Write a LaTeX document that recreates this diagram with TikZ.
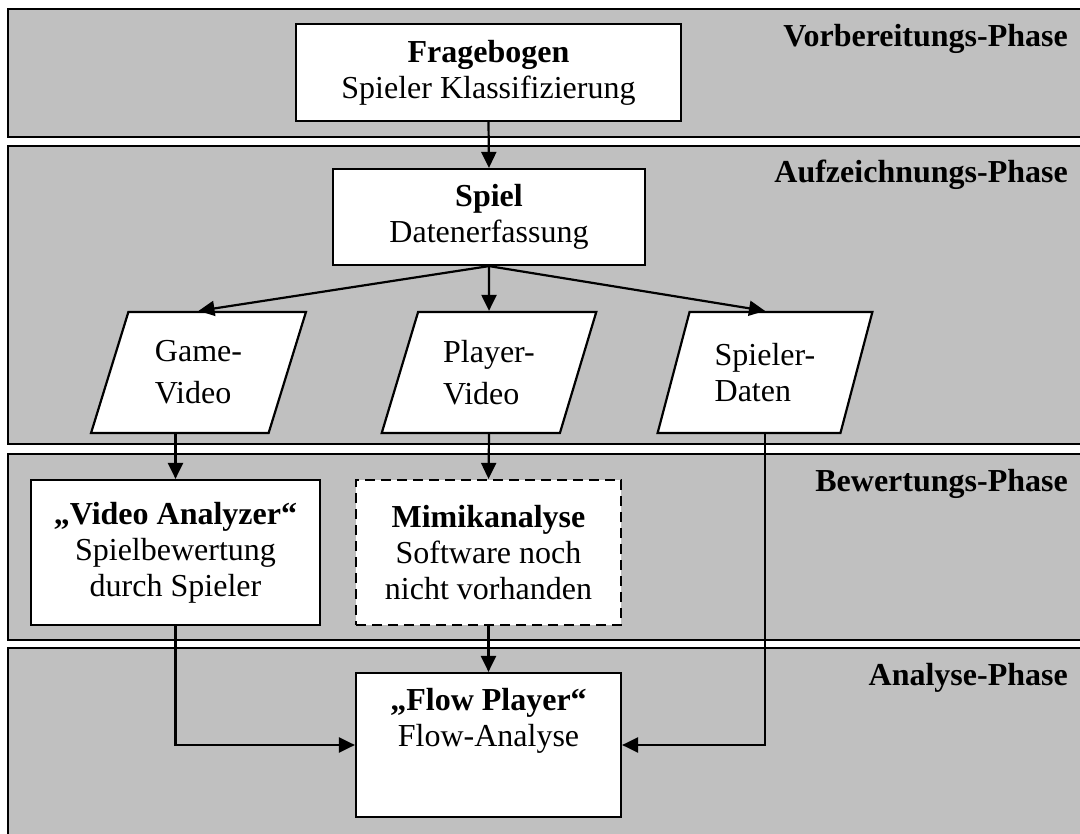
\documentclass[tikz,border=0pt]{standalone}
\usepackage{fontspec}
\setmainfont{Liberation Serif}
\usetikzlibrary{arrows.meta,shapes.geometric}
\definecolor{bandgray}{RGB}{192,192,192}

\begin{document}
\begin{tikzpicture}[x=1pt, y=-1pt,
    font=\fontsize{32}{36}\selectfont,
    band/.style={draw, fill=bandgray, line width=2.2pt},
    phase/.style={anchor=base east, inner sep=0pt, font=\fontsize{32}{36}\selectfont\bfseries},
    box/.style={draw, fill=white, line width=2.2pt, align=center, inner sep=0pt},
    io/.style={draw, fill=white, line width=2.2pt, align=left, inner sep=0pt,
               trapezium, trapezium left angle=70, trapezium right angle=110,
               trapezium stretches=true, minimum width=215pt, minimum height=121pt},
    link/.style={line width=2.2pt, -{Triangle[length=16pt,width=15pt]}}]
          \clip (0,0) rectangle (1080,834);
          \fill[white] (0,0) rectangle (1080,834);

          \draw[band] (8,  9) rectangle (1095,137);
          \draw[band] (8,146) rectangle (1095,444);
          \draw[band] (8,454) rectangle (1095,640);
          \draw[band] (8,648) rectangle (1095,845);

          \node (vorb) at (1068, 47) [phase] {Vorbereitungs-Phase};
          \node (aufz) at (1068,183) [phase] {Aufzeichnungs-Phase};
          \node (bewe) at (1068,492) [phase] {Bewertungs-Phase};
          \node (anal) at (1068,685) [phase] {Analyse-Phase};

          \node (frage) at (488.5, 72.5) [box, minimum width=385pt, minimum height=97pt] {\textbf{Fragebogen}\\Spieler Klassifizierung};
          \node (spiel) at (489,  217) [box, minimum width=312pt, minimum height=96pt] {\textbf{Spiel}\\Datenerfassung};

          \node (gv) at (198.5,372.5) [io] {Game-\\[6pt]Video};
          \node (pv) at (489,  372.5) [io] {Player-\\[6pt]Video};
          \node (sd) at (765,  372.5) [io] {Spieler-\\Daten};

          \node (va)    at (175.5,552.5) [box, minimum width=289pt, minimum height=145pt] {\textbf{„Video Analyzer“}\\Spielbewertung\\durch Spieler};
          \node (mimik) at (488.5,552.5) [box, dash pattern=on 10pt off 6pt, minimum width=265pt, minimum height=145pt] {\textbf{Mimikanalyse}\\Software noch\\nicht vorhanden};

          \node (flow)  at (488.5,745) [box, minimum width=265pt, minimum height=144pt] {\textbf{„Flow Player“}\\Flow-Analyse\\\rule[-20pt]{0pt}{1pt}};

          \draw[link] (frage.south) -- (spiel.north);
          \draw[link] (spiel.south) -- (gv.north);
          \draw[link] (spiel.south) -- (pv.north);
          \draw[link] (spiel.south) -- (sd.north);

          \draw[link] (gv.south -| va.north) -- (va.north);
          \draw[link] (pv.south) -- (mimik.north);

          \draw[link] (va.south) |- (flow.west);
          \draw[link] (mimik.south) -- (flow.north);
          \draw[link] (sd.south) |- (flow.east);
        \end{tikzpicture}
\end{document}
